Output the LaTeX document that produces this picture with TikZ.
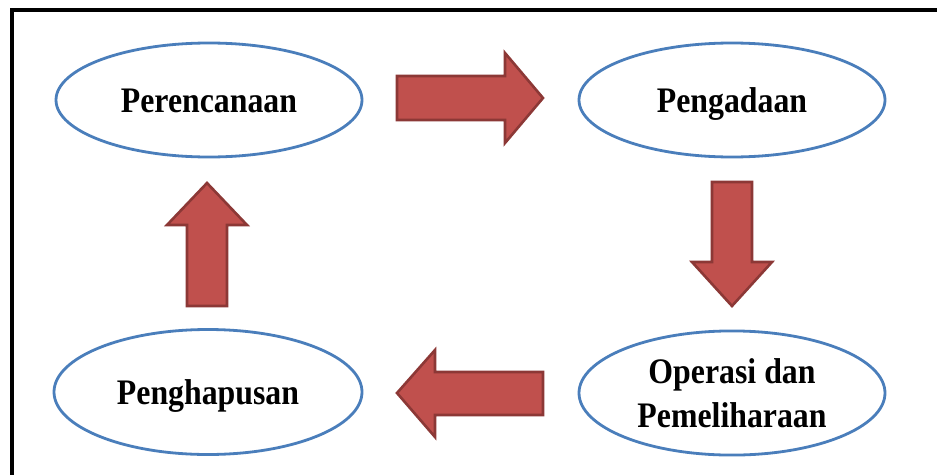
\documentclass[tikz,border=0pt]{standalone}
\usepackage{fontspec}
\setmainfont{Liberation Serif}
\usepackage{graphicx}
\usetikzlibrary{shapes.geometric}
\definecolor{ellblue}{HTML}{4A7EBB}
\definecolor{arrfill}{HTML}{C0504D}
\definecolor{arredge}{HTML}{8C3836}
\newcommand\lbl[1]{\raisebox{-4pt}[\height][\depth]{\scalebox{1.01}[1.14]{\begin{tabular}{@{}c@{}}#1\end{tabular}}}}
\tikzset{
  stage/.style={ellipse, draw=ellblue, line width=2.8pt, fill=white, inner sep=0pt,
    font=\fontsize{31.5}{38}\selectfont\bfseries, align=center},
  blockarrow/.style={fill=arrfill, draw=arredge, line width=2.6pt, line join=miter}
}
\begin{document}
\begin{tikzpicture}[x=1pt,y=-1pt]
\useasboundingbox (0,0) rectangle (937,474);
\clip (0,0) rectangle (937,474);
\fill[white] (0,0) rectangle (937,474);
% frame
\draw[line width=3.5pt] (12,480) -- (12,10) -- (945,10);
% stages
\node[stage, minimum width=306pt, minimum height=114pt] (per) at (209,100) {\lbl{Perencanaan}};
\node[stage, minimum width=306pt, minimum height=114pt] (pen) at (732,100) {\lbl{Pengadaan}};
\node[stage, minimum width=308pt, minimum height=125pt] (hap) at (208,392) {\lbl{Penghapusan}};
\node[stage, minimum width=306pt, minimum height=124pt] (ops) at (732,393) {\lbl{Operasi dan\\[1pt] Pemeliharaan}};
% block arrows
\draw[blockarrow] (397,76) -- (505,76) -- (505,53) -- (543,98) -- (505,143) -- (505,120) -- (397,120) -- cycle;
\draw[blockarrow] (712,182) -- (752,182) -- (752,262) -- (772,262) -- (732,306) -- (692,262) -- (712,262) -- cycle;
\draw[blockarrow] (543,372) -- (435,372) -- (435,350) -- (397,393) -- (435,437) -- (435,415) -- (543,415) -- cycle;
\draw[blockarrow] (187,306) -- (187,225) -- (167,225) -- (207,183) -- (247,225) -- (227,225) -- (227,306) -- cycle;
\end{tikzpicture}
\end{document}
